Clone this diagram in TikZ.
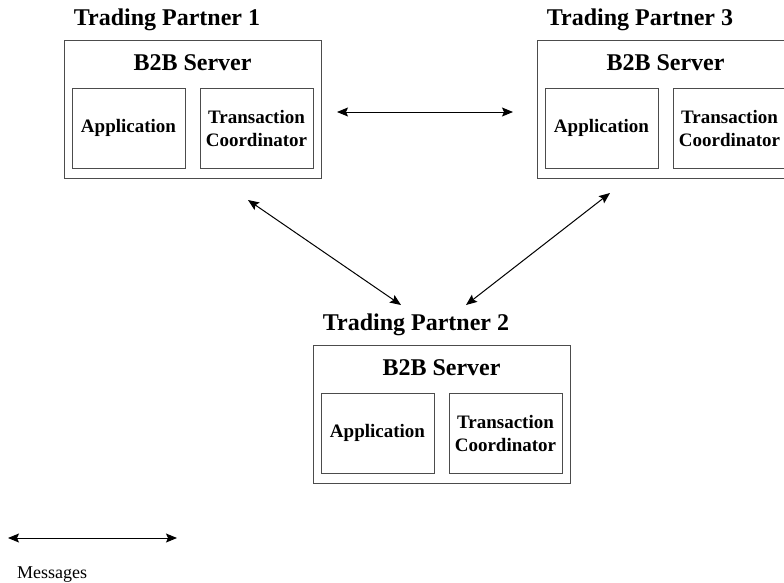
\documentclass[tikz,border=0pt]{standalone}
\usepackage{fontspec}
\setmainfont{Liberation Serif}
\usetikzlibrary{arrows.meta}

\tikzset{
  frame/.style={draw=black!70, line width=1pt, rectangle, inner sep=0pt},
  serverbox/.style={frame, minimum width=257pt, minimum height=138pt},
  partbox/.style={frame, minimum width=113pt, minimum height=80pt,
    font=\fontsize{19}{23}\selectfont\bfseries, align=center},
  titletext/.style={font=\fontsize{24}{28}\selectfont\bfseries, inner sep=0pt},
  msg/.style={line width=1pt, {Stealth[length=11pt,width=9pt,inset=2pt]}-{Stealth[length=11pt,width=9pt,inset=2pt]}},
}

% One trading partner: title, B2B server frame and its two components.
% #1 = id, (#2,#3) = top-left corner of the server frame, #4 = partner number
\newcommand\partnerblock[4]{%
  \node[serverbox] (srv#1) at (#2+128.5, #3+69) {};
  \node[titletext] (tp#1) at (#2+103, #3-20) {Trading Partner #4};
  \node[titletext] (b2b#1) at (#2+128.5, #3+23) {B2B Server};
  \node[partbox] (app#1) at (#2+64.5, #3+88) {Application};
  \node[partbox] (tc#1) at (#2+192.5, #3+88) {Transaction\\Coordinator};
}

\begin{document}
\begin{tikzpicture}[x=1pt, y=-1pt]
  \useasboundingbox (0,0) rectangle (784,582);
  \clip (0,0) rectangle (784,582);

  \partnerblock{A}{64}{40}{1}
  \partnerblock{C}{537}{40}{3}
  \partnerblock{B}{313}{345}{2}

  % message endpoints
  \coordinate (hA) at (337,112);
  \coordinate (hC) at (513,112);
  \coordinate (dA) at (248,200);
  \coordinate (dB1) at (401,305);
  \coordinate (dC) at (610,193);
  \coordinate (dB2) at (466,305);

  \draw[msg] (hA) -- (hC);
  \draw[msg] (dA) -- (dB1);
  \draw[msg] (dC) -- (dB2);

  % legend
  \coordinate (lgL) at (8,538);
  \coordinate (lgR) at (177,538);
  \draw[msg] (lgL) -- (lgR);
  \node[anchor=base west, inner sep=0pt, font=\fontsize{18}{21}\selectfont] (lgtext) at (17,578) {Messages};
\end{tikzpicture}
\end{document}
